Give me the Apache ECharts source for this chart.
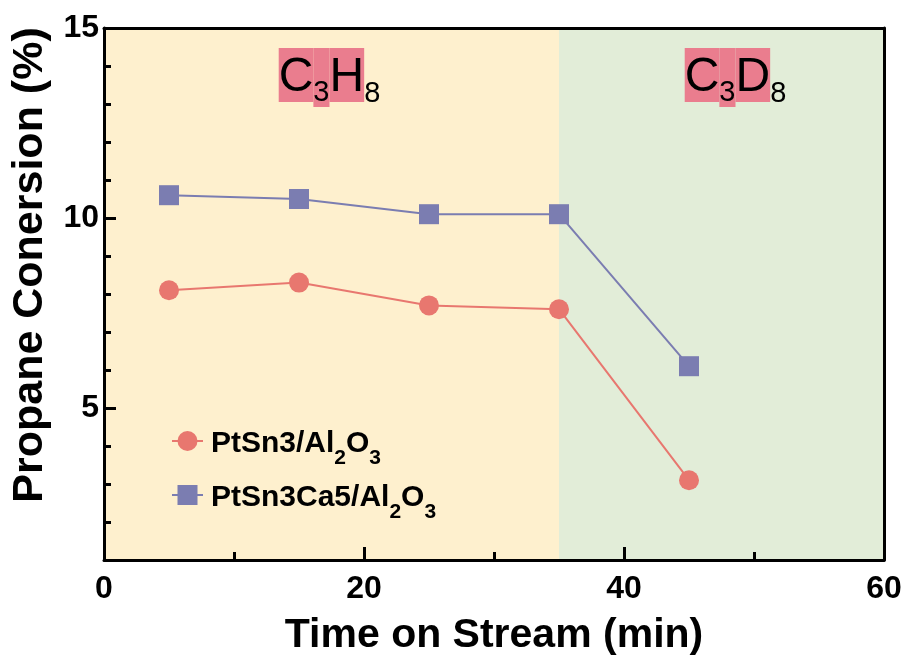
<!DOCTYPE html>
<html>
<head>
<meta charset="utf-8">
<script src="https://cdn.jsdelivr.net/npm/echarts@6/dist/echarts.min.js"></script>
<style>
  html, body { margin: 0; padding: 0; background: #ffffff; }
  #chart { width: 905px; height: 657px; }
</style>
</head>
<body>
<div id="chart"></div>
<script>
// ---- data ----
const timeMin = [5, 15, 25, 35, 45];
const ptSn3 = [8.1, 8.3, 7.7, 7.6, 3.1];
const ptSn3Ca5 = [10.6, 10.5, 10.1, 10.1, 6.1];
const seriesNames = ['PtSn3/Al2O3', 'PtSn3Ca5/Al2O3'];
const phaseBounds = [[0, 35], [35, 60]];
const phaseNames = ['C3H8', 'C3D8'];
const xTicks = [0, 20, 40, 60];
const yTicks = [5, 10, 15];
const yMinorTicks = [2, 3, 4, 6, 7, 8, 9, 11, 12, 13, 14];

const FONT = 'Liberation Sans, Arial, sans-serif';
const RED = '#E8776F';
const BLUE = '#7B7DB1';
const PINK = '#EA7D8E';

function pairs(xs, ys) { return xs.map((x, i) => [x, ys[i]]); }

// rich-text formula: "C3H8" -> highlighted C,3,H ; plain subscript 8
function phaseLabel(name) {
  const parts = name.match(/[A-Z][a-z]?|\d+/g);
  return parts.map((p, i) => {
    const isNum = /\d/.test(p);
    const last = i === parts.length - 1;
    if (last) return '{sp|' + p + '}';
    return isNum ? '{hs|' + p + '}' : '{h|' + p + '}';
  }).join('');
}
function legendLabel(name) {
  const idx = name.indexOf('/');
  const head = name.slice(0, idx + 1);
  const tail = name.slice(idx + 1);
  let out = '{b|' + head + '}';
  tail.match(/[A-Z][a-z]?|\d+/g).forEach(p => {
    out += /\d/.test(p) ? '{s|' + p + '}' : '{b|' + p + '}';
  });
  return out;
}

const phaseRich = {
  h: { fontSize: 48, lineHeight: 52, fontFamily: FONT, color: '#000', backgroundColor: PINK, padding: [6, 0, 0, 0], verticalAlign: 'top' },
  hs: { fontSize: 29, lineHeight: 28, fontFamily: FONT, color: '#000', backgroundColor: PINK, padding: [30, 0, 0, 0], verticalAlign: 'top' },
  sp: { fontSize: 29, lineHeight: 28, fontFamily: FONT, color: '#000', padding: [31, 0, 0, 0], verticalAlign: 'top' }
};

const bgColors = ['#FEF0CE', '#E2EDD8'];
const labelOffsets = [[-2, 0], [14, 0]];

const markData = phaseBounds.map((b, i) => [
  {
    xAxis: b[0],
    itemStyle: { color: bgColors[i] },
    label: {
      show: true,
      position: 'insideTop',
      distance: 20,
      offset: labelOffsets[i],
      formatter: phaseLabel(phaseNames[i]),
      rich: phaseRich
    }
  },
  { xAxis: b[1] }
]);

const axisCommonLine = { show: true, onZero: false, lineStyle: { color: '#000', width: 3 } };
const tickFont = { fontSize: 32, fontWeight: 'bold', fontFamily: FONT, color: '#000' };

const chart = echarts.init(document.getElementById('chart'));
chart.setOption({
  animation: false,
  backgroundColor: '#ffffff',
  grid: { left: 104, right: 21, top: 28, bottom: 97, containLabel: false, outerBoundsMode: 'none' },
  legend: {
    orient: 'vertical',
    left: 166,
    top: 424,
    itemWidth: 31,
    itemHeight: 25,
    itemGap: 14,
    data: seriesNames,
    formatter: legendLabel,
    textStyle: {
      padding: [8, 0, 0, 3],
      rich: {
        b: { fontSize: 30, fontWeight: 'bold', fontFamily: FONT, color: '#000', lineHeight: 32, verticalAlign: 'top' },
        s: { fontSize: 21, fontWeight: 'bold', fontFamily: FONT, color: '#000', lineHeight: 21, padding: [19, 0, 0, 0], verticalAlign: 'top' }
      }
    }
  },
  xAxis: [
    {
      type: 'value', min: 0, max: 60, interval: 20, z: 10,
      name: 'Time on Stream (min)', nameLocation: 'middle', nameGap: 55,
      nameTextStyle: { fontSize: 41, fontWeight: 'bold', fontFamily: FONT, color: '#000' },
      axisLine: axisCommonLine,
      axisTick: { show: true, inside: true, length: 13, lineStyle: { color: '#000', width: 3 } },
      minorTick: { show: true, splitNumber: 2, length: 8, lineStyle: { color: '#000', width: 3 } },
      axisLabel: Object.assign({ margin: 13, customValues: xTicks }, tickFont),
      splitLine: { show: false }
    },
    {
      type: 'value', min: 0, max: 60, position: 'top', z: 10,
      axisLine: axisCommonLine, axisTick: { show: false }, axisLabel: { show: false }, splitLine: { show: false }
    }
  ],
  yAxis: [
    {
      type: 'value', min: 1, max: 15, z: 10,
      name: 'Propane Conersion (%)', nameLocation: 'middle', nameGap: 52, nameRotate: 90,
      nameTextStyle: { fontSize: 43, fontWeight: 'bold', fontFamily: FONT, color: '#000', padding: [0, 0, 0, 58] },
      axisLine: axisCommonLine,
      axisTick: { show: true, inside: true, length: 12, customValues: yTicks, lineStyle: { color: '#000', width: 3 } },
      axisLabel: Object.assign({ margin: 5, customValues: yTicks }, tickFont),
      splitLine: { show: false }
    },
    {
      type: 'value', min: 1, max: 15, position: 'left', z: 10,
      axisLine: { show: false },
      axisTick: { show: true, inside: true, length: 7, customValues: yMinorTicks, lineStyle: { color: '#000', width: 3 } },
      axisLabel: { show: false }, splitLine: { show: false }
    },
    {
      type: 'value', min: 1, max: 15, position: 'right', z: 10,
      axisLine: axisCommonLine, axisTick: { show: false }, axisLabel: { show: false }, splitLine: { show: false }
    }
  ],
  series: [
    {
      name: '__bg', type: 'line', data: [], z: 1, silent: true,
      markArea: { silent: true, data: markData }
    },
    {
      name: seriesNames[0], type: 'line', z: 3,
      data: pairs(timeMin, ptSn3),
      symbol: 'circle', symbolSize: 20,
      lineStyle: { color: RED, width: 2 },
      itemStyle: { color: RED }
    },
    {
      name: seriesNames[1], type: 'line', z: 3,
      data: pairs(timeMin, ptSn3Ca5),
      symbol: 'rect', symbolSize: 20,
      lineStyle: { color: BLUE, width: 2 },
      itemStyle: { color: BLUE }
    }
  ]
});
</script>
</body>
</html>
